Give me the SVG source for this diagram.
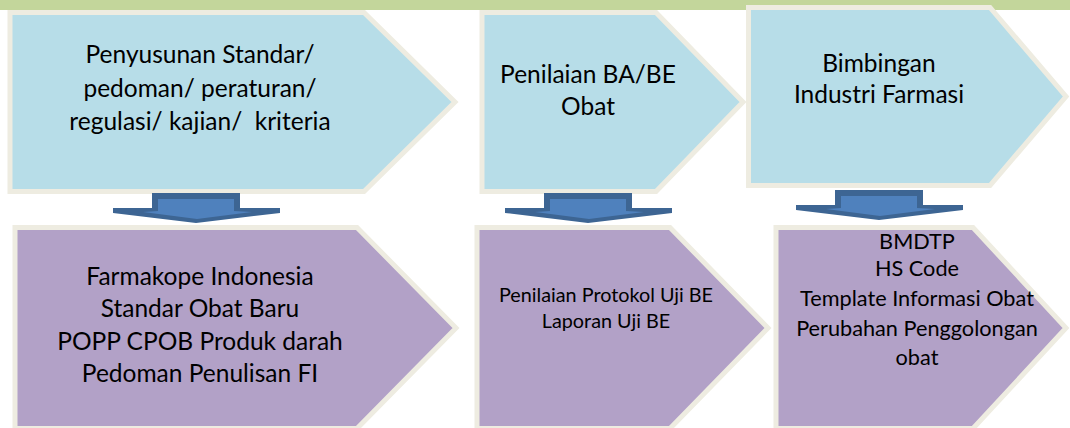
<svg xmlns="http://www.w3.org/2000/svg" width="1070" height="428" viewBox="0 0 1070 428">
<style>
.bg{fill:#ffffff}
.band{fill:#c3d69b}
.top{fill:#b7dde8;stroke:#eeece1;stroke-width:5;stroke-linejoin:miter}
.bot{fill:#b2a1c7;stroke:#eeece1;stroke-width:5;stroke-linejoin:miter}
.arrOut{fill:#3d6593}
.arrIn{fill:#4f81bd}
text{font-family:Lato,"Liberation Sans",sans-serif;fill:#000;text-anchor:middle}
.t26{font-size:24.5px}
.t23{font-size:21.7px}
.t21{font-size:19.8px}
</style>
<defs>
<g id="arrow">
<polygon class="arrOut" points="-44,193 44,193 44,208 84,208 84,213 0,223 -83,213 -83,208 -44,208"/>
<polygon class="arrIn" points="-38,199 38,199 38,211 56,212 1,219 -53,212 -38,211"/>
</g>
</defs>
<rect class="bg" x="0" y="0" width="1070" height="428"/>
<rect class="band" x="0" y="0" width="1070" height="10"/>
<g id="node-penyusunan">
<polygon class="top" points="10,12.5 364,12.5 455,102 364,191.5 10,191.5"/>
<text class="t26"><tspan x="200" y="63">Penyusunan Standar/</tspan><tspan x="200" y="96.5">pedoman/ peraturan/</tspan><tspan x="200" y="130" style="white-space:pre">regulasi/ kajian/  kriteria</tspan></text>
</g>
<g id="node-penilaian-babe">
<polygon class="top" points="482,12.5 656,12.5 743,102 656,191.5 482,191.5"/>
<text class="t26"><tspan x="588" y="83">Penilaian BA/BE</tspan><tspan x="588" y="115">Obat</tspan></text>
</g>
<g id="node-bimbingan">
<polygon class="top" points="748.5,7.5 990,7.5 1066,96.5 990,185.5 748.5,185.5"/>
<text class="t26"><tspan x="879" y="72">Bimbingan</tspan><tspan x="879" y="103">Industri Farmasi</tspan></text>
</g>
<g id="node-farmakope">
<polygon class="bot" points="15,227.5 357,227.5 456,328 357,428.5 15,428.5"/>
<text class="t26"><tspan x="200" y="285">Farmakope Indonesia</tspan><tspan x="200" y="317.3">Standar Obat Baru</tspan><tspan x="200" y="349.7">POPP CPOB Produk darah</tspan><tspan x="200" y="382">Pedoman Penulisan FI</tspan></text>
</g>
<g id="node-protokol">
<polygon class="bot" points="477,227.5 670,227.5 768,328 670,428.5 477,428.5"/>
<text class="t21"><tspan x="606" y="302">Penilaian Protokol Uji BE</tspan><tspan x="606" y="328">Laporan Uji BE</tspan></text>
</g>
<g id="node-bmdtp">
<polygon class="bot" points="776,227.5 973,227.5 1066,328 973,428.5 776,428.5"/>
<text class="t23"><tspan x="917" y="249">BMDTP</tspan><tspan x="917" y="276">HS Code</tspan><tspan x="917" y="306">Template Informasi Obat</tspan><tspan x="917" y="336">Perubahan Penggolongan</tspan><tspan x="917" y="365">obat</tspan></text>
</g>
<g id="connectors">
<use href="#arrow" transform="translate(196,0)"/>
<use href="#arrow" transform="translate(588,0)"/>
<use href="#arrow" transform="translate(879,-3)"/>
</g>
</svg>
